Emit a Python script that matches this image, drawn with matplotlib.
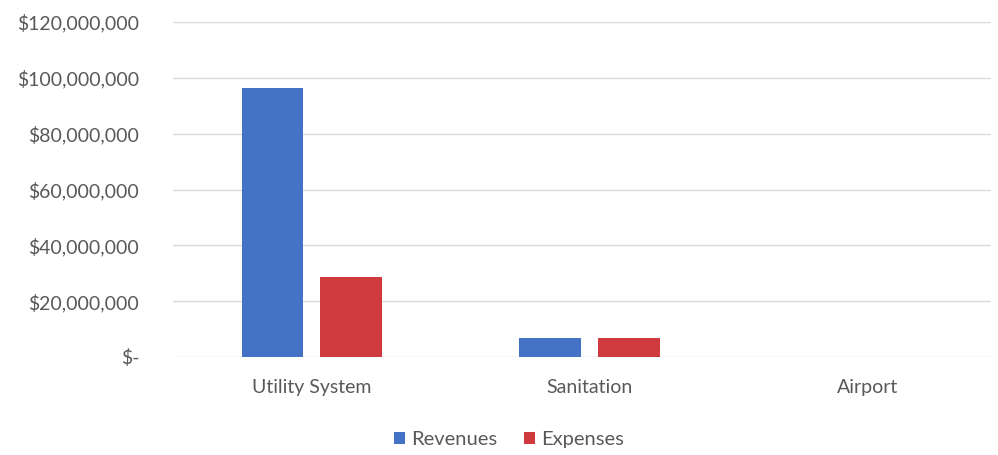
import numpy as np
import matplotlib.pyplot as plt
from matplotlib.ticker import FuncFormatter

categories = ['Utility System', 'Sanitation', 'Airport']
revenues = [96500000, 6800000, 0]
expenses = [28500000, 6800000, 0]

plt.rcParams['font.family'] = ['Lato', 'DejaVu Sans']

fig = plt.figure(figsize=(9.98, 4.55), dpi=100)
ax = fig.add_axes([0.173, 0.2154, 0.82, 0.7362])

x = np.arange(len(categories))
w = 0.22
ax.bar(x - 0.142, revenues, w, color='#4472C4', label='Revenues', zorder=3)
ax.bar(x + 0.142, expenses, w, color='#CF3A3F', label='Expenses', zorder=3)

ax.set_xlim(-0.5, 2.445)
ax.set_ylim(0, 120000000)
ax.set_yticks(np.arange(0, 120000001, 20000000))

def fmt(v, pos):
    if v == 0:
        return '$-'
    return '${:,.0f}'.format(v)

ax.yaxis.set_major_formatter(FuncFormatter(fmt))
ax.set_xticks(x)
ax.set_xticklabels(categories)
ax.tick_params(axis='both', length=0, labelsize=14, labelcolor='#595959')
ax.tick_params(axis='y', pad=24)
ax.tick_params(axis='x', pad=16)
ax.grid(axis='y', color='#D9D9D9', linewidth=1, zorder=0)
for s in ax.spines.values():
    s.set_visible(False)

fig.legend(loc='lower center', bbox_to_anchor=(0.51, -0.025), ncol=2, frameon=False,
           fontsize=14.5, handlelength=0.55, handleheight=0.55, handletextpad=0.3,
           columnspacing=1.3, labelcolor='#595959')

fig.savefig('out.png', dpi=100)
